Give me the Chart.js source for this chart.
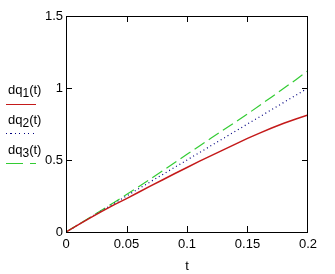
<!DOCTYPE html>
<html>
<head>
<meta charset="utf-8">
<script src="https://cdn.jsdelivr.net/npm/chart.js@4/dist/chart.umd.min.js"></script>
<style>
  body { margin: 0; background: #fff; }
  #wrap { position: relative; width: 335px; height: 274px; }
  .lbl { position: absolute; font: 13px Arial, "Liberation Sans", sans-serif; color: #000; }
  .lbl sub { font-size: 12px; vertical-align: -3px; line-height: 0; }
  .sample { position: absolute; left: 6px; width: 30px; height: 1px; }
</style>
</head>
<body>
<div id="wrap">
  <canvas id="chart" width="335" height="274"></canvas>
  <div class="lbl" style="left:8px;top:82px">dq<sub>1</sub>(t)</div>
  <div class="sample" style="top:104px;background:#c41a1a"></div>
  <div class="lbl" style="left:8px;top:112px">dq<sub>2</sub>(t)</div>
  <div class="sample" style="top:133px;background:repeating-linear-gradient(to right,#000080 0 1px,transparent 1px 4.5px)"></div>
  <div class="lbl" style="left:8px;top:142px">dq<sub>3</sub>(t)</div>
  <div class="sample" style="top:163px;background:repeating-linear-gradient(to right,#33cc33 0 17px,transparent 17px 24px)"></div>
</div>
<script>
// values
const tValues = [0, 0.01, 0.02, 0.03, 0.04, 0.05, 0.06, 0.07, 0.08, 0.09, 0.1,
                 0.11, 0.12, 0.13, 0.14, 0.15, 0.16, 0.17, 0.18, 0.19, 0.2];
const dq1 = [0, 0.05, 0.098, 0.145, 0.19, 0.232, 0.276, 0.32, 0.363, 0.406, 0.448,
             0.49, 0.53, 0.57, 0.61, 0.65, 0.687, 0.722, 0.755, 0.785, 0.812];
const dq2 = [0, 0.05, 0.1, 0.15, 0.2, 0.25, 0.3, 0.35, 0.4, 0.45, 0.5,
             0.55, 0.6, 0.65, 0.7, 0.75, 0.8, 0.85, 0.9, 0.95, 1.0];
const dq3 = [0, 0.051, 0.102, 0.154, 0.207, 0.26, 0.315, 0.37, 0.426, 0.483, 0.54,
             0.596, 0.652, 0.708, 0.764, 0.82, 0.879, 0.938, 0.998, 1.058, 1.12];

const xTicks = [0, 0.05, 0.1, 0.15, 0.2];
const xTickLabels = ["0", "0.05", "0.1", "0.15", "0.2"];
const yTicks = [0, 0.5, 1, 1.5];
const yTickLabels = ["0", "0.5", "1", "1.5"];

const pts = (ys) => tValues.map((t, i) => ({ x: t, y: ys[i] }));

const font = { family: "Arial, 'Liberation Sans', sans-serif", size: 13 };

// frame plus short inward ticks on all four sides
const frameTicks = {
    id: "frameTicks",
    afterDraw(chart) {
        const { ctx, chartArea: a, scales } = chart;
        ctx.save();
        ctx.strokeStyle = "#000";
        ctx.lineWidth = 1;
        ctx.strokeRect(a.left + 0.5, a.top + 0.5, a.right - a.left - 1, a.bottom - a.top);
        ctx.beginPath();
        for (const v of xTicks.slice(1, -1)) {
            const x = Math.round(scales.x.getPixelForValue(v)) + 0.5;
            ctx.moveTo(x, a.bottom); ctx.lineTo(x, a.bottom - 6);
            ctx.moveTo(x, a.top); ctx.lineTo(x, a.top + 6);
        }
        for (const v of yTicks.slice(1, -1)) {
            const y = Math.round(scales.y.getPixelForValue(v)) + 0.5;
            ctx.moveTo(a.left, y); ctx.lineTo(a.left + 6, y);
            ctx.moveTo(a.right, y); ctx.lineTo(a.right - 6, y);
        }
        ctx.stroke();
        ctx.restore();
    }
};

new Chart(document.getElementById("chart"), {
    type: "line",
    plugins: [frameTicks],
    data: {
        datasets: [
            { label: "dq1(t)", data: pts(dq1), borderColor: "#c41a1a", borderWidth: 1.5 },
            { label: "dq2(t)", data: pts(dq2), borderColor: "#000080", borderWidth: 1.2, borderDash: [1, 3] },
            { label: "dq3(t)", data: pts(dq3), borderColor: "#33cc33", borderWidth: 1.2, borderDash: [12, 5] },
        ],
    },
    options: {
        responsive: false,
        animation: false,
        elements: { point: { radius: 0 }, line: { tension: 0 } },
        layout: { padding: { left: 0, top: 16, right: 27, bottom: 0 } },
        plugins: { legend: { display: false }, tooltip: { enabled: false } },
        scales: {
            x: {
                type: "linear",
                min: 0, max: 0.2,
                afterBuildTicks: (s) => { s.ticks = xTicks.map((v) => ({ value: v })); },
                afterFit: (s) => { s.height = 42; },
                grid: { display: false, drawTicks: false },
                border: { display: false },
                ticks: {
                    padding: 5, color: "#000", font, maxRotation: 0, autoSkip: false,
                    callback: (v) => xTickLabels[xTicks.indexOf(v)],
                },
                title: { display: true, text: "t", color: "#000", font, padding: { top: 0, bottom: 0 } },
            },
            y: {
                min: 0, max: 1.5,
                afterBuildTicks: (s) => { s.ticks = yTicks.map((v) => ({ value: v })); },
                afterFit: (s) => { s.width = 66; },
                grid: { display: false, drawTicks: false },
                border: { display: false },
                ticks: {
                    padding: 3, color: "#000", font, autoSkip: false,
                    callback: (v) => yTickLabels[yTicks.indexOf(v)],
                },
            },
        },
    },
});
</script>
</body>
</html>
